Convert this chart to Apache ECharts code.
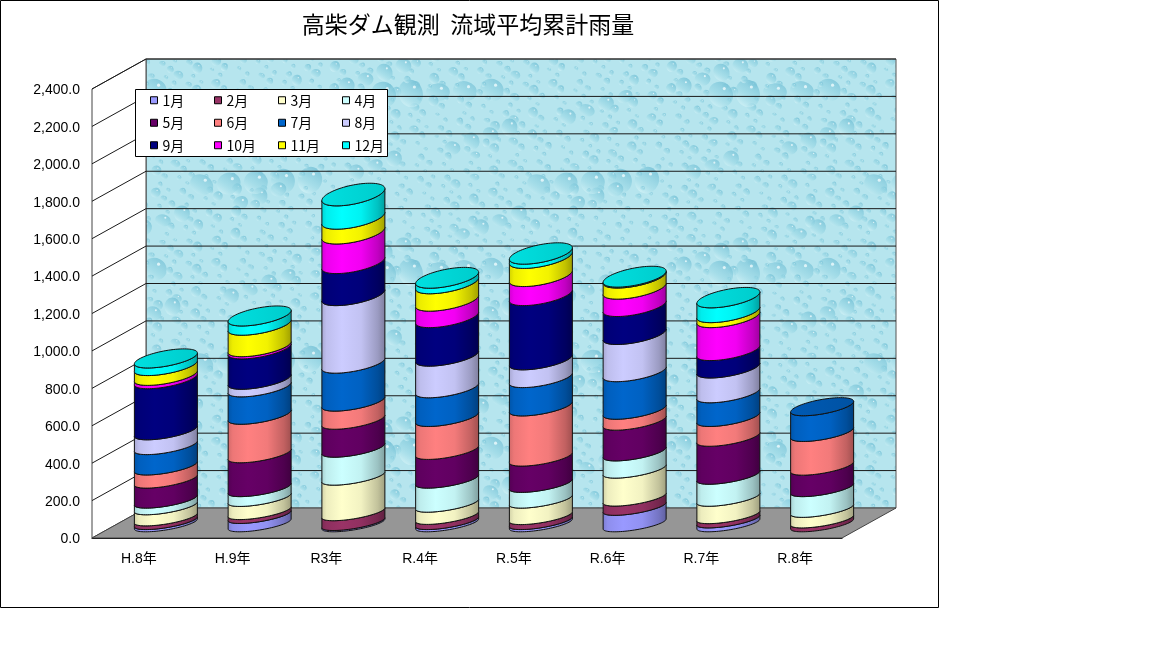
<!DOCTYPE html>
<html><head><meta charset="utf-8">
<style>html,body{margin:0;padding:0;background:#fff}#c{width:1152px;height:648px}</style>
<script src="https://cdn.jsdelivr.net/npm/echarts@6/dist/echarts.min.js"></script>
</head><body><div id="c"></div>
<script>
const categories = ['H.8年','H.9年','R3年','R.4年','R.5年','R.6年','R.7年','R.8年'];
const monthNames = ['1月','2月','3月','4月','5月','6月','7月','8月','9月','10月','11月','12月'];
const m1  = [12,45,7,12,12,89,21,0];
const m2  = [20,21,53,28,27,50,23,21];
const m3  = [60,71,192,66,89,151,94,57];
const m4  = [36,53,151,130,85,93,119,112];
const m5  = [108,183,151,155,142,166,205,116];
const m6  = [71,208,98,178,271,59,107,182];
const m7  = [110,148,205,155,153,203,128,139];
const m8  = [80,41,365,171,96,201,134,0];
const m9  = [276,164,173,208,347,151,94,0];
const m10 = [18,12,160,89,103,94,178,0];
const m11 = [53,116,80,94,98,60,27,0];
const m12 = [41,50,126,30,23,5,80,0];
const monthValues = [m1,m2,m3,m4,m5,m6,m7,m8,m9,m10,m11,m12];
const monthColors = ['#9999FF','#993366','#FFFFCC','#CCFFFF','#660066','#FF8080','#0066CC','#CCCCFF','#000080','#FF00FF','#FFFF00','#00FFFF'];
const yTicks = [0,200,400,600,800,1000,1200,1400,1600,1800,2000,2200,2400];

const DX = 54, DY = -30;
const FONT = '"Liberation Sans","Noto Sans CJK JP",sans-serif';
const CJK = '"Noto Sans CJK JP","Liberation Sans",sans-serif';

function makeTexture(){
  const W=337,H=179,cv=document.createElement('canvas');cv.width=W;cv.height=H;
  const g=cv.getContext('2d');g.fillStyle='#B6E5EE';g.fillRect(0,0,W,H);
  const frac=v=>v-Math.floor(v);
  function drop(x,y,r,sq,rot){
    const gr=g.createLinearGradient(x+r*0.7,y-r,x-r*0.7,y+r);
    gr.addColorStop(0,'rgba(112,190,212,0.8)');
    gr.addColorStop(0.55,'rgba(150,214,228,0.6)');
    gr.addColorStop(1,'rgba(214,244,248,0.85)');
    g.fillStyle=gr;g.beginPath();g.ellipse(x,y,r,r*sq,rot,0,Math.PI*2);g.fill();
    g.fillStyle='rgba(245,253,255,0.75)';g.beginPath();g.arc(x+r*0.3,y-r*sq*0.45,Math.max(0.45,r*0.13),0,Math.PI*2);g.fill();
  }
  for(let n=1;n<=430;n++){
    const x=frac(n*0.75488)*W,y=frac(n*0.56984)*H;
    const k=n%43===0?12:(n%19===0?8:(n%6===0?5:(n%2===0?3.4:2.4)));
    const sq=0.7+0.5*frac(n*0.3819),rot=frac(n*0.137)*1.2-0.6;
    for(const ox of [-W,0,W])for(const oy of [-H,0,H])
      if(x+ox>-20&&x+ox<W+20&&y+oy>-20&&y+oy<H+20)drop(x+ox,y+oy,k,sq,rot);
  }
  return cv;
}
const texture = makeTexture();

function shade(hex,f){
  const n=parseInt(hex.slice(1),16);
  const c=[n>>16&255,n>>8&255,n&255].map(v=>Math.round(v*f));
  return 'rgb('+c.join(',')+')';
}
function sideFill(hex){
  return {type:'linear',x:0,y:0,x2:1,y2:0,colorStops:[
    {offset:0,color:shade(hex,0.82)},{offset:0.08,color:shade(hex,0.93)},
    {offset:0.32,color:shade(hex,1)},{offset:0.62,color:shade(hex,0.95)},
    {offset:0.88,color:shade(hex,0.76)},{offset:1,color:shade(hex,0.62)}]};
}

// the ellipses open up with height, as in a perspective view
function arc(cx,cy,R,from,to,steps,refY){
  const h=6+(523-refY)*0.011, k=5+(523-refY)*0.003;
  const p=[];
  for(let i=0;i<=steps;i++){
    const t=from+(to-from)*i/steps;
    p.push([cx+R*Math.cos(t),cy-k*Math.cos(t)+h*Math.sin(t)]);
  }
  return p;
}
function segmentItem(hex,isTop){
  return function(params,api){
    const i=api.value(0),a=api.value(1),b=api.value(2);
    if(b<=a) return null;
    const pa=api.coord([i,a]),pb=api.coord([i,b]);
    const R=api.size([1,0])[0]*0.336;
    const cx=pa[0]+DX/2, ya=pa[1]+DY/2+1, yb=pb[1]+DY/2+1;
    const bottom=arc(cx,ya,R,0,Math.PI,40,ya);
    const top=arc(cx,yb,R,Math.PI,0,40,yb);
    const children=[{type:'polygon',shape:{points:bottom.concat(top)},
      style:{fill:sideFill(hex),stroke:'#101010',lineWidth:1}}];
    if(isTop(i)){
      children.push({type:'polygon',shape:{points:arc(cx,yb,R,0,Math.PI*2,80,yb)},
        style:{fill:{type:'linear',x:0,y:0,x2:1,y2:0,colorStops:[
          {offset:0,color:shade(hex,0.88)},{offset:1,color:shade(hex,0.8)}]},stroke:'#101010',lineWidth:1}});
    }
    return {type:'group',children};
  };
}
function renderWalls(params,api){
  const v=api.value(0),cs=params.coordSys;
  const y=api.coord([0,v])[1],x0=cs.x,x1=cs.x+cs.width;
  const line=(a,b,c,d,col)=>({type:'line',shape:{x1:a,y1:b,x2:c,y2:d},style:{stroke:col||'#1a1a1a',lineWidth:1}});
  const kids=[];
  if(v===0){
    const yTop=cs.y,yBot=cs.y+cs.height;
    kids.push({type:'polygon',shape:{points:[[x0+DX,yTop+DY],[x1+DX,yTop+DY],[x1+DX,yBot+DY],[x0+DX,yBot+DY]]},
      style:{fill:{image:texture,repeat:'repeat'},stroke:'#555',lineWidth:1}});
    kids.push({type:'polygon',shape:{points:[[x0,yTop],[x0+DX,yTop+DY],[x0+DX,yBot+DY],[x0,yBot]]},
      style:{fill:'#fff',stroke:'#444',lineWidth:1}});
    kids.push({type:'polygon',shape:{points:[[x0,yBot],[x1,yBot],[x1+DX,yBot+DY],[x0+DX,yBot+DY]]},
      style:{fill:'#969696',stroke:'#444',lineWidth:1}});
  } else {
    kids.push(line(x0,y,x0+DX,y+DY));
    kids.push(line(x0+DX,y+DY,x1+DX,y+DY));
  }
  return {type:'group',children:kids};
}

const cum=categories.map(()=>0);
const lastMonth=categories.map((_,c)=>{let l=0;monthValues.forEach((arr,m)=>{if(arr[c]>0)l=m;});return l;});
const monthSeries=monthValues.map((vals,m)=>{
  const data=vals.map((v,c)=>{const s=cum[c];cum[c]+=v;return [c,s,cum[c]];});
  return {type:'custom',name:monthNames[m],z:2,clip:false,silent:true,
    coordinateSystem:'cartesian2d',encode:{x:0,y:[1,2]},
    itemStyle:{color:monthColors[m],borderColor:'#000',borderWidth:1},
    renderItem:segmentItem(monthColors[m],c=>lastMonth[c]===m),data};
});

const chart=echarts.init(document.getElementById('c'),null,{renderer:'canvas'});
chart.setOption({
  animation:false,backgroundColor:'#fff',
  title:{text:'高柴ダム観測  流域平均累計雨量',left:463,top:8,textAlign:'center',
    textStyle:{fontFamily:CJK,fontSize:23,fontWeight:'normal',color:'#000'}},
  grid:{left:92,right:310,top:89,bottom:110,containLabel:false},
  xAxis:{type:'category',data:categories,axisTick:{show:false},
    axisLine:{lineStyle:{color:'#000',width:1}},
    axisLabel:{margin:14,color:'#000',fontFamily:FONT,fontSize:14}},
  yAxis:{type:'value',min:0,max:2400,interval:200,splitLine:{show:false},axisTick:{show:false},
    axisLine:{show:true,lineStyle:{color:'#333',width:1}},
    axisLabel:{margin:12,color:'#000',fontFamily:FONT,fontSize:14,
      formatter:v=>'{a|'+v.toLocaleString('en-US',{minimumFractionDigits:1,maximumFractionDigits:1})+'}',
      rich:{a:{fontFamily:FONT,fontSize:14,color:'#000',padding:[3,0,0,0]}}}},
  legend:{data:monthNames,left:150,top:92,width:256,padding:0,itemWidth:7,itemHeight:7,itemGap:6,
    icon:'rect',z:6,selectedMode:false,
    itemStyle:{borderColor:'#000',borderWidth:1},
    textStyle:{width:45.5,lineHeight:16.5,height:16.5,fontFamily:CJK,fontSize:14,color:'#000',overflow:'none'}},
  graphic:[
    {type:'rect',z:3,shape:{x:135.5,y:89.5,width:252,height:67},style:{fill:'#fff',stroke:'#000',lineWidth:1}},
    {type:'rect',z:10,shape:{x:0.5,y:0.5,width:938,height:607},style:{fill:'none',stroke:'#000',lineWidth:1}}
  ],
  series:[{type:'custom',name:'walls',z:1,clip:false,silent:true,coordinateSystem:'cartesian2d',
    encode:{y:0},renderItem:renderWalls,data:yTicks.map(v=>[v])}].concat(monthSeries)
});
</script></body></html>
